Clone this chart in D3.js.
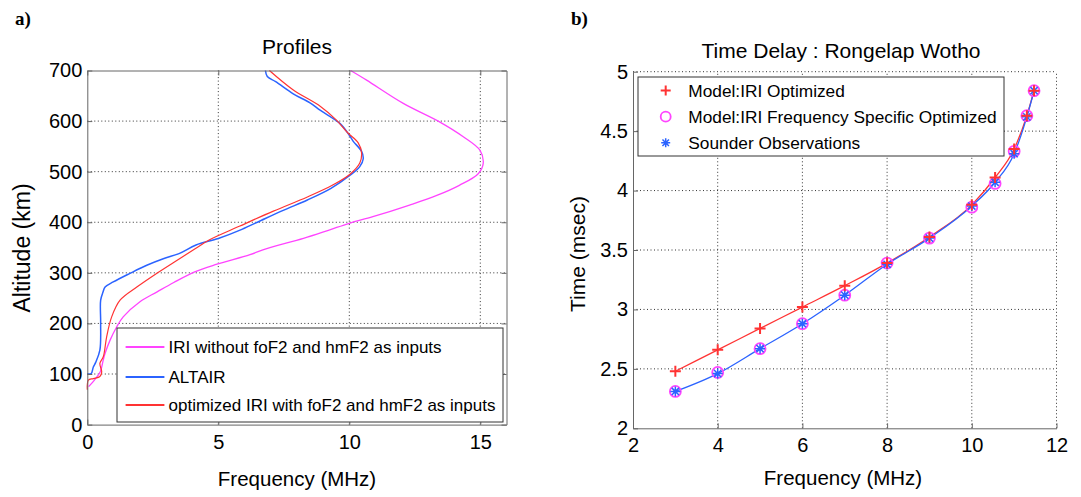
<!DOCTYPE html>
<html>
<head>
<meta charset="utf-8">
<script src="https://cdn.jsdelivr.net/npm/d3@7"></script>
<style>
  body { margin: 0; background: #fff; }
  svg { font-family: "Liberation Sans", Arial, sans-serif; }
</style>
</head>
<body>
<div id="chart"></div>
<script>
// ---- panel a) : electron density profiles (frequency MHz, altitude km)
var iriFreq = [0.05, 0.3, 0.5, 0.61, 0.68, 0.87, 1.12, 1.37, 2.01, 2.65, 3.3, 4.1, 4.95, 6.21, 6.85, 8.25, 9.2, 10.0, 10.9, 12.3, 13.34, 14.2, 14.92, 15.11, 14.99, 14.35, 13.46, 12.06, 10.66, 10.05];
var iriAlt  = [75, 90, 105, 128, 141, 167, 193, 213, 243, 262, 281, 302, 317, 336, 348, 368, 384, 398, 411, 434, 453, 473, 496, 516, 542, 569, 598, 635, 681, 700];

var altairFreq = [0, 0.15, 0.23, 0.32, 0.48, 0.51, 0.51, 0.6, 0.68, 0.99, 1.63, 2.27, 2.9, 3.5, 4.15, 5.0, 5.9, 6.65, 7.5, 8.4, 9.3, 10.03, 10.4, 10.53, 10.47, 10.15, 10.0, 9.65, 8.9, 8.5, 7.86, 7.19, 6.87, 6.8];
var altairAlt  = [100, 101, 114, 123, 147, 200, 246, 262, 272, 282, 299, 315, 328, 338, 355, 368, 386, 404, 424, 444, 467, 493, 510, 525, 540, 560, 572, 595, 621, 636, 654, 678, 688, 700];

var optFreq = [0, 0, 0.04, 0.23, 0.48, 0.55, 0.48, 0.61, 0.74, 0.93, 1.25, 1.89, 2.65, 3.4, 4.1, 4.65, 5.8, 7.1, 8.4, 9.35, 10.05, 10.4, 10.47, 10.34, 9.94, 9.49, 8.9, 7.85, 6.95];
var optAlt  = [69, 78, 88, 91, 95, 104, 121, 134, 174, 213, 246, 272, 299, 324, 347, 365, 392, 422, 450, 473, 496, 517, 537, 557, 577, 603, 629, 662, 700];

var profileNames = ["IRI without foF2 and hmF2 as inputs", "ALTAIR", "optimized IRI with foF2 and hmF2 as inputs"];

// ---- panel b) : time delay vs frequency
var delayFreq = [3, 4, 5, 6, 7, 8, 9, 10, 10.55, 11, 11.3, 11.47];
var delayOptimized = [2.48, 2.66, 2.84, 3.02, 3.20, 3.39, 3.61, 3.88, 4.11, 4.35, 4.63, 4.84];
var delayFreqSpecific = [2.31, 2.47, 2.67, 2.88, 3.12, 3.39, 3.60, 3.86, 4.06, 4.33, 4.63, 4.84];
var delaySounder = [2.31, 2.46, 2.67, 2.88, 3.12, 3.38, 3.60, 3.87, 4.07, 4.31, 4.62, 4.84];

var delayNames = ["Model:IRI Optimized", "Model:IRI Frequency Specific Optimized", "Sounder Observations"];

var xTicksA = [0, 5, 10, 15];
var yTicksA = [0, 100, 200, 300, 400, 500, 600, 700];
var xTicksB = [2, 4, 6, 8, 10, 12];
var yTicksB = [2, 2.5, 3, 3.5, 4, 4.5, 5];

var RED = "#ff3333", BLUE = "#2b63ff", MAGENTA = "#ff44ff";
var AXIS = "#666";

var svg = d3.select("#chart").append("svg")
    .attr("width", 1081)
    .attr("height", 497);

function zip(a, b) { return a.map(function (v, i) { return [v, b[i]]; }); }

// dotted grid
function grid(g, x, y, xv, yv) {
    g.selectAll("line.gx").data(xv).enter().append("line")
        .attr("x1", x).attr("x2", x)
        .attr("y1", y.range()[0]).attr("y2", y.range()[1]);
    g.selectAll("line.gy").data(yv).enter().append("line")
        .attr("y1", y).attr("y2", y)
        .attr("x1", x.range()[0]).attr("x2", x.range()[1]);
    g.selectAll("line")
        .attr("stroke", "#333")
        .attr("stroke-width", 1)
        .attr("stroke-dasharray", "1,2.5");
}

function styleAxis(g, fontSize) {
    g.selectAll(".domain").attr("stroke", AXIS);
    g.selectAll(".tick line").attr("stroke", AXIS);
    g.selectAll("text").attr("fill", "#000").style("font-size", fontSize + "px")
        .style("font-family", '"Liberation Sans", Arial, sans-serif');
}

// ================= panel a =================
var xA = d3.scaleLinear().domain([0, 16]).range([87.3, 506.5]);
var yA = d3.scaleLinear().domain([0, 700]).range([424.6, 70.5]);

var gA = svg.append("g");
grid(gA.append("g"), xA, yA, xTicksA.filter(function (d) { return d > 0; }),
     yTicksA.filter(function (d) { return d > 0 && d < 700; }));

var lineA = d3.line()
    .x(function (d) { return xA(d[0]); })
    .y(function (d) { return yA(d[1]); })
    .curve(d3.curveCatmullRom.alpha(0.5));

var profiles = [
    { pts: zip(iriFreq, iriAlt), color: MAGENTA, w: 1.3 },
    { pts: zip(altairFreq, altairAlt), color: BLUE, w: 1.5 },
    { pts: zip(optFreq, optAlt), color: RED, w: 1.2 }
];
gA.selectAll("path.profile").data(profiles).enter().append("path")
    .attr("class", "profile")
    .attr("d", function (d) { return lineA(d.pts); })
    .attr("fill", "none")
    .attr("stroke", function (d) { return d.color; })
    .attr("stroke-width", function (d) { return d.w; });

gA.append("g").attr("transform", "translate(0," + yA(0) + ")")
    .call(d3.axisBottom(xA).tickValues(xTicksA).tickSizeInner(-5).tickSizeOuter(0).tickPadding(10))
    .call(styleAxis, 20);
gA.append("g").attr("transform", "translate(" + xA(0) + ",0)")
    .call(d3.axisLeft(yA).tickValues(yTicksA).tickSizeInner(-5).tickSizeOuter(0).tickPadding(5))
    .call(styleAxis, 20);
gA.append("g").attr("transform", "translate(0," + yA(700) + ")")
    .call(d3.axisTop(xA).tickValues(xTicksA).tickSizeInner(-5).tickSizeOuter(0).tickFormat(""))
    .call(styleAxis, 20);
gA.append("g").attr("transform", "translate(" + xA(16) + ",0)")
    .call(d3.axisRight(yA).tickValues(yTicksA).tickSizeInner(-5).tickSizeOuter(0).tickFormat(""))
    .call(styleAxis, 20);

// legend a
var legA = gA.append("g");
legA.append("rect").attr("x", 117).attr("y", 328).attr("width", 386).attr("height", 94)
    .attr("fill", "#fff").attr("stroke", "#333").attr("stroke-width", 1);
var legRowsA = [347, 377, 405];
profileNames.forEach(function (name, i) {
    legA.append("line")
        .attr("x1", 125.6).attr("x2", 164.4)
        .attr("y1", legRowsA[i]).attr("y2", legRowsA[i])
        .attr("stroke", profiles[i].color).attr("stroke-width", 2);
    legA.append("text").attr("x", 168.5).attr("y", legRowsA[i] + 6)
        .style("font-size", "17px").text(name);
});

gA.append("text").attr("x", 297).attr("y", 54).attr("text-anchor", "middle")
    .style("font-size", "21px").text("Profiles");
gA.append("text").attr("x", 297).attr("y", 486).attr("text-anchor", "middle")
    .style("font-size", "20.5px").text("Frequency (MHz)");
gA.append("text").attr("transform", "translate(29.5,248) rotate(-90)").attr("text-anchor", "middle")
    .style("font-size", "23px").text("Altitude (km)");
svg.append("text").attr("x", 15).attr("y", 25)
    .style("font-family", '"Liberation Serif", "Times New Roman", serif')
    .style("font-weight", "bold").style("font-size", "19px").text("a)");

// ================= panel b =================
var xB = d3.scaleLinear().domain([2, 12]).range([633, 1056.5]);
var yB = d3.scaleLinear().domain([2, 5]).range([428.3, 71.7]);

var gB = svg.append("g");
grid(gB.append("g"), xB, yB, xTicksB.filter(function (d) { return d > 2; }),
     yTicksB.filter(function (d) { return d > 2; }));

var lineB = d3.line()
    .x(function (d) { return xB(d[0]); })
    .y(function (d) { return yB(d[1]); })
    .curve(d3.curveMonotoneX);

gB.append("path").attr("d", lineB(zip(delayFreq, delayOptimized)))
    .attr("fill", "none").attr("stroke", RED).attr("stroke-width", 1.3);
gB.append("path").attr("d", lineB(zip(delayFreq, delaySounder)))
    .attr("fill", "none").attr("stroke", BLUE).attr("stroke-width", 1.3);

function plusMarker(g, cx, cy, r, color) {
    g.append("path")
        .attr("d", "M" + (cx - r) + "," + cy + "H" + (cx + r) + "M" + cx + "," + (cy - r) + "V" + (cy + r))
        .attr("stroke", color).attr("stroke-width", 2).attr("fill", "none");
}
function starMarker(g, cx, cy, r, color) {
    var k = r * 0.72;
    g.append("path")
        .attr("d", "M" + (cx - r) + "," + cy + "H" + (cx + r) +
                   "M" + cx + "," + (cy - r) + "V" + (cy + r) +
                   "M" + (cx - k) + "," + (cy - k) + "L" + (cx + k) + "," + (cy + k) +
                   "M" + (cx - k) + "," + (cy + k) + "L" + (cx + k) + "," + (cy - k))
        .attr("stroke", color).attr("stroke-width", 1.5).attr("fill", "none");
    g.append("circle").attr("cx", cx).attr("cy", cy).attr("r", 1.8).attr("fill", color);
}
function ringMarker(g, cx, cy, r, color) {
    g.append("circle").attr("cx", cx).attr("cy", cy).attr("r", r)
        .attr("fill", "none").attr("stroke", color).attr("stroke-width", 1.8);
}

var marks = gB.append("g");
delayFreq.forEach(function (f, i) {
    ringMarker(marks, xB(f), yB(delayFreqSpecific[i]), 5.5, MAGENTA);
});
delayFreq.forEach(function (f, i) {
    starMarker(marks, xB(f), yB(delaySounder[i]), 5, BLUE);
});
delayFreq.forEach(function (f, i) {
    plusMarker(marks, xB(f), yB(delayOptimized[i]), 5.5, RED);
});

gB.append("g").attr("transform", "translate(0," + yB(2) + ")")
    .call(d3.axisBottom(xB).tickValues(xTicksB).tickSizeInner(-5).tickSizeOuter(0).tickPadding(10))
    .call(styleAxis, 20);
gB.append("g").attr("transform", "translate(" + xB(2) + ",0)")
    .call(d3.axisLeft(yB).tickValues(yTicksB).tickFormat(d3.format("~g"))
        .tickSizeInner(-5).tickSizeOuter(0).tickPadding(5))
    .call(styleAxis, 20);

// legend b
var legB = gB.append("g");
legB.append("rect").attr("x", 638).attr("y", 77).attr("width", 366).attr("height", 79)
    .attr("fill", "#fff").attr("stroke", "#333").attr("stroke-width", 1);
var legRowsB = [90.5, 116.7, 142.7];
plusMarker(legB, 665.7, legRowsB[0], 5, RED);
ringMarker(legB, 665.7, legRowsB[1], 5, MAGENTA);
starMarker(legB, 665.7, legRowsB[2], 4.5, BLUE);
delayNames.forEach(function (name, i) {
    legB.append("text").attr("x", 688.3).attr("y", legRowsB[i] + 6)
        .style("font-size", "17.3px").text(name);
});

gB.append("text").attr("x", 841).attr("y", 58).attr("text-anchor", "middle")
    .style("font-size", "21px").text("Time Delay : Rongelap Wotho");
gB.append("text").attr("x", 843).attr("y", 485).attr("text-anchor", "middle")
    .style("font-size", "20.5px").text("Frequency (MHz)");
gB.append("text").attr("transform", "translate(585,254) rotate(-90)").attr("text-anchor", "middle")
    .style("font-size", "21px").text("Time (msec)");
svg.append("text").attr("x", 571).attr("y", 25)
    .style("font-family", '"Liberation Serif", "Times New Roman", serif')
    .style("font-weight", "bold").style("font-size", "19px").text("b)");
</script>
</body>
</html>
